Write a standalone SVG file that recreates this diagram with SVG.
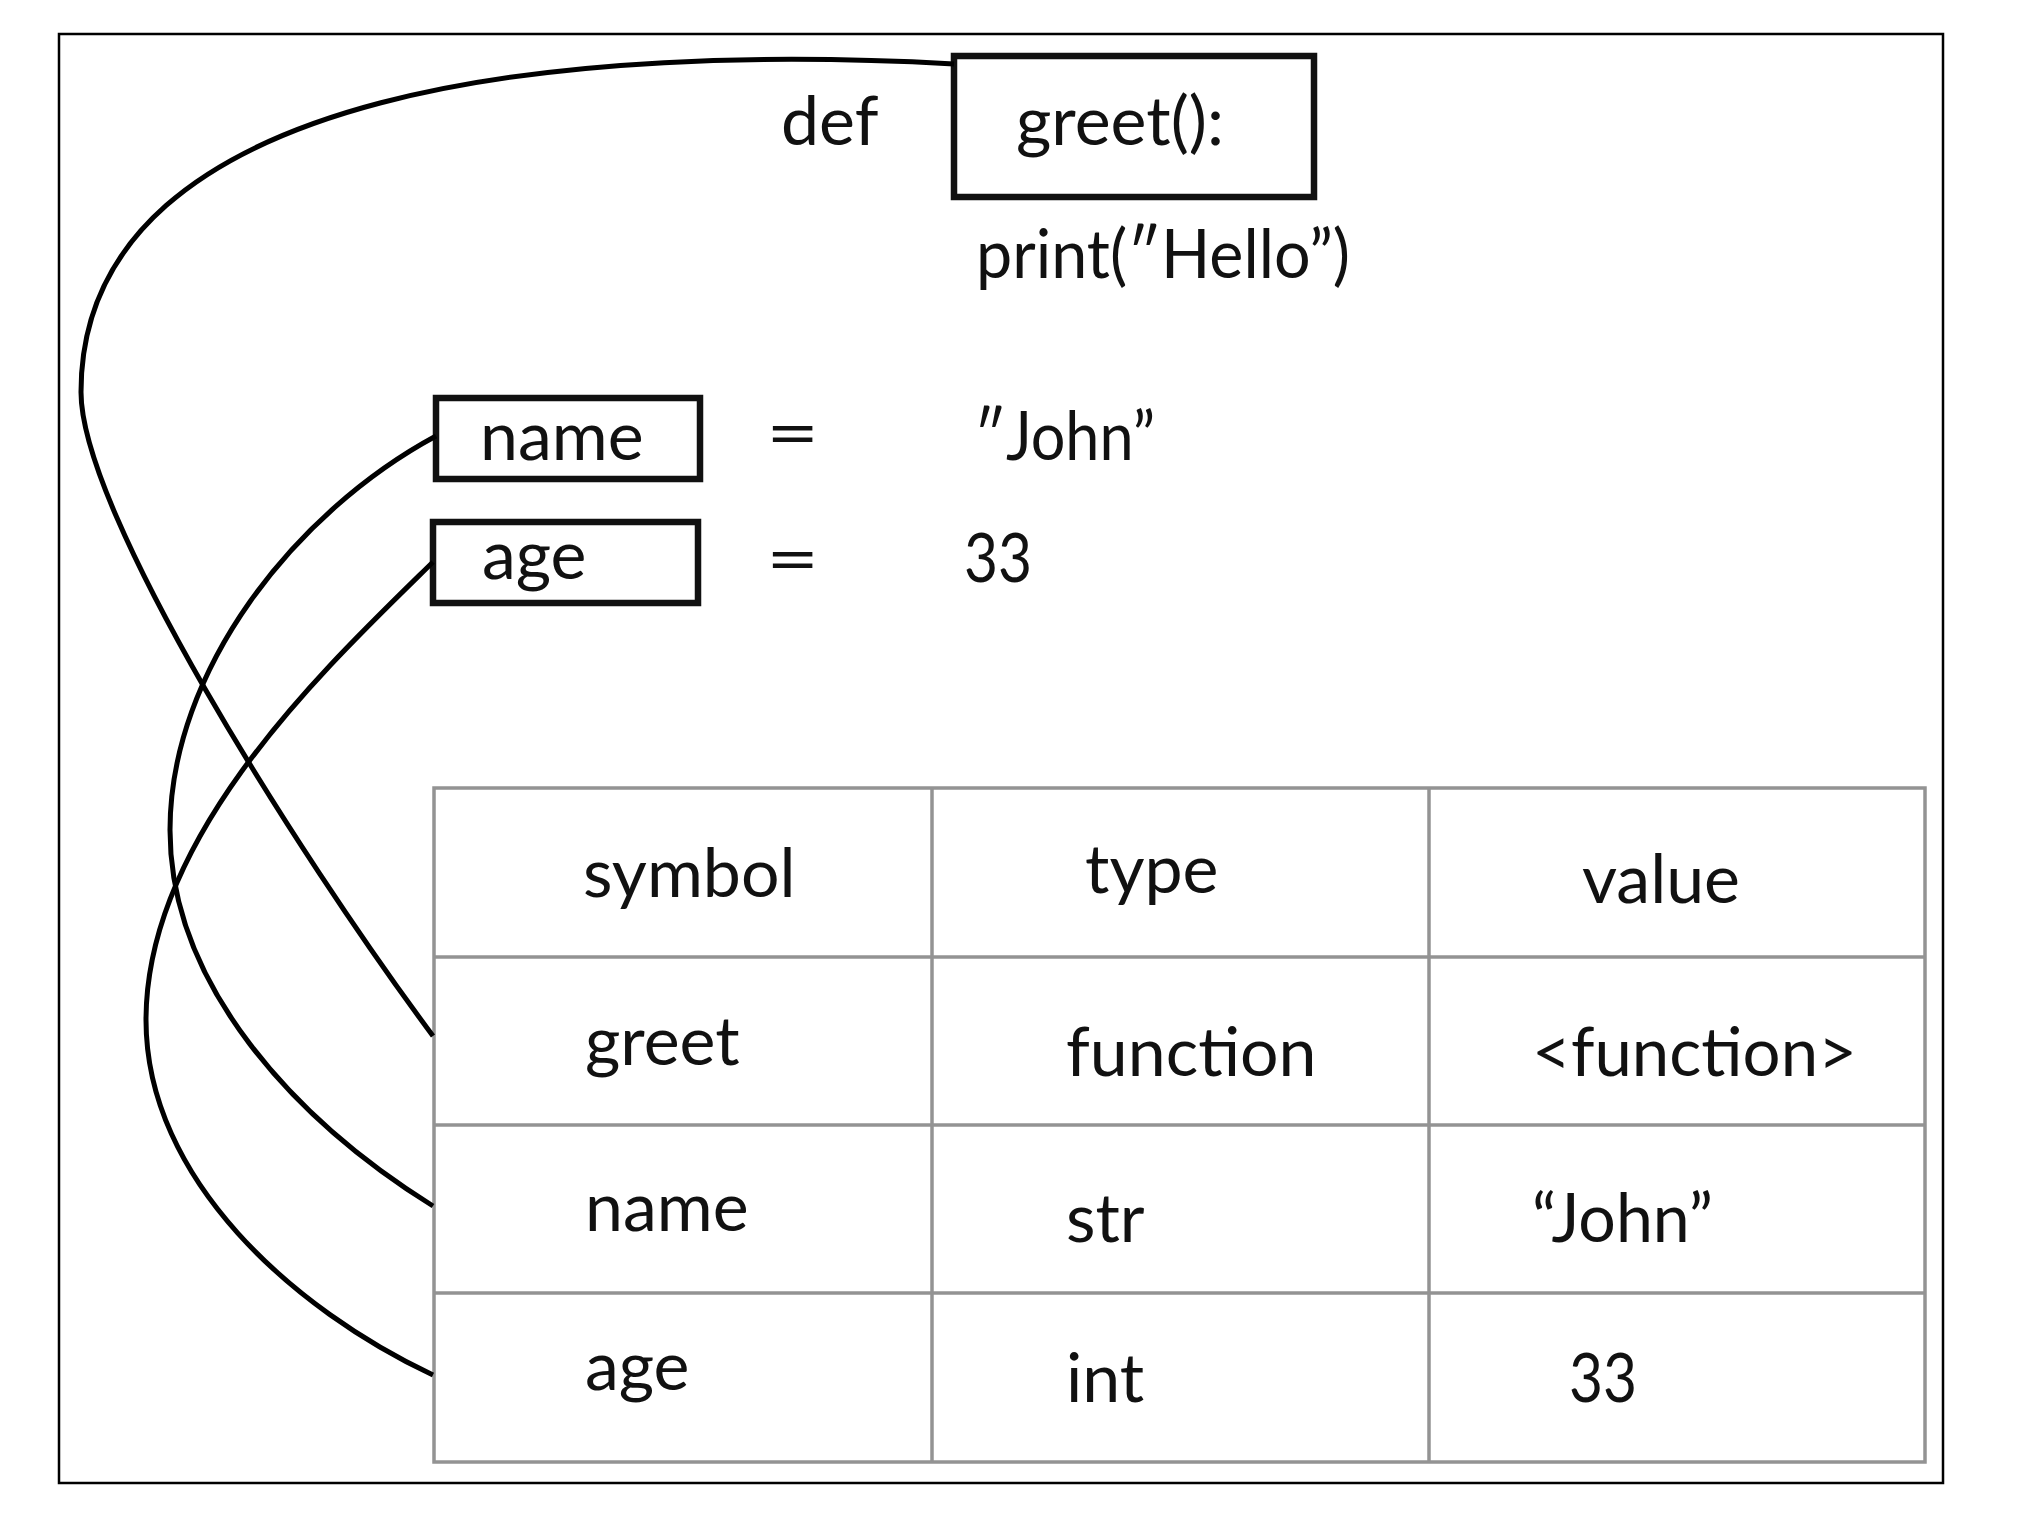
<svg xmlns="http://www.w3.org/2000/svg" width="2022" height="1515" viewBox="0 0 2022 1515">
<style>
.t{font-family:Lato,"Open Sans","Liberation Sans",sans-serif;font-size:68px;fill:#111}
.box{fill:none;stroke:#111;stroke-width:6.5}
.grid{fill:none;stroke:#939393;stroke-width:3.5}
.wire{fill:none;stroke:#000;stroke-width:5}
</style>
<rect x="0" y="0" width="2022" height="1515" fill="#fff"/>
<rect x="59" y="34" width="1884" height="1449" fill="none" stroke="#000" stroke-width="2.5"/>
<g id="def-line">
<text class="t" x="781" y="145">def</text>
</g>
<g id="greet-box">
<rect class="box" x="954" y="56" width="360" height="141"/>
<text class="t" x="1016" y="145">greet():</text>
</g>
<g id="print-line">
<text class="t" x="976" y="278" textLength="374" lengthAdjust="spacingAndGlyphs">print(″Hello”)</text>
</g>
<g id="name-box">
<rect class="box" x="436" y="398" width="264" height="81"/>
<text class="t" x="480" y="460">name</text>
</g>
<g id="name-assign">
<text class="t" transform="translate(766,457) scale(1.35,1)">=</text>
<text class="t" x="974" y="460" textLength="181" lengthAdjust="spacingAndGlyphs">″John”</text>
</g>
<g id="age-box">
<rect class="box" x="433" y="522" width="265" height="81"/>
<text class="t" x="482" y="579">age</text>
</g>
<g id="age-assign">
<text class="t" transform="translate(766,583) scale(1.35,1)">=</text>
<text class="t" x="964" y="582" textLength="68" lengthAdjust="spacingAndGlyphs">33</text>
</g>
<g id="table">
<rect class="grid" x="434" y="788" width="1491" height="674"/>
<line class="grid" x1="932" y1="788" x2="932" y2="1462"/>
<line class="grid" x1="1429" y1="788" x2="1429" y2="1462"/>
<line class="grid" x1="434" y1="957" x2="1925" y2="957"/>
<line class="grid" x1="434" y1="1125" x2="1925" y2="1125"/>
<line class="grid" x1="434" y1="1293" x2="1925" y2="1293"/>
<text class="t" x="583" y="897">symbol</text>
<text class="t" x="1085" y="893">type</text>
<text class="t" x="1582" y="903">value</text>
<text class="t" x="585" y="1065">greet</text>
<text class="t" x="1066" y="1076">function</text>
<text class="t" x="1532" y="1076" textLength="325" lengthAdjust="spacingAndGlyphs">&lt;function&gt;</text>
<text class="t" x="585" y="1231">name</text>
<text class="t" x="1066" y="1242">str</text>
<text class="t" x="1532" y="1242" textLength="181" lengthAdjust="spacingAndGlyphs">“John”</text>
<text class="t" x="585" y="1390">age</text>
<text class="t" x="1066" y="1402">int</text>
<text class="t" x="1569" y="1402" textLength="68" lengthAdjust="spacingAndGlyphs">33</text>
</g>
<g id="connectors">
<path class="wire" d="M954,64 C590,44 81,78 81,392 C81,512 295,850 433,1036"/>
<path class="wire" d="M436,436 C295,512 170,670 170,830 C170,985 295,1120 433,1206"/>
<path class="wire" d="M433,562 C325,668 146,835 146,1020 C146,1180 295,1310 433,1375"/>
</g>
</svg>
